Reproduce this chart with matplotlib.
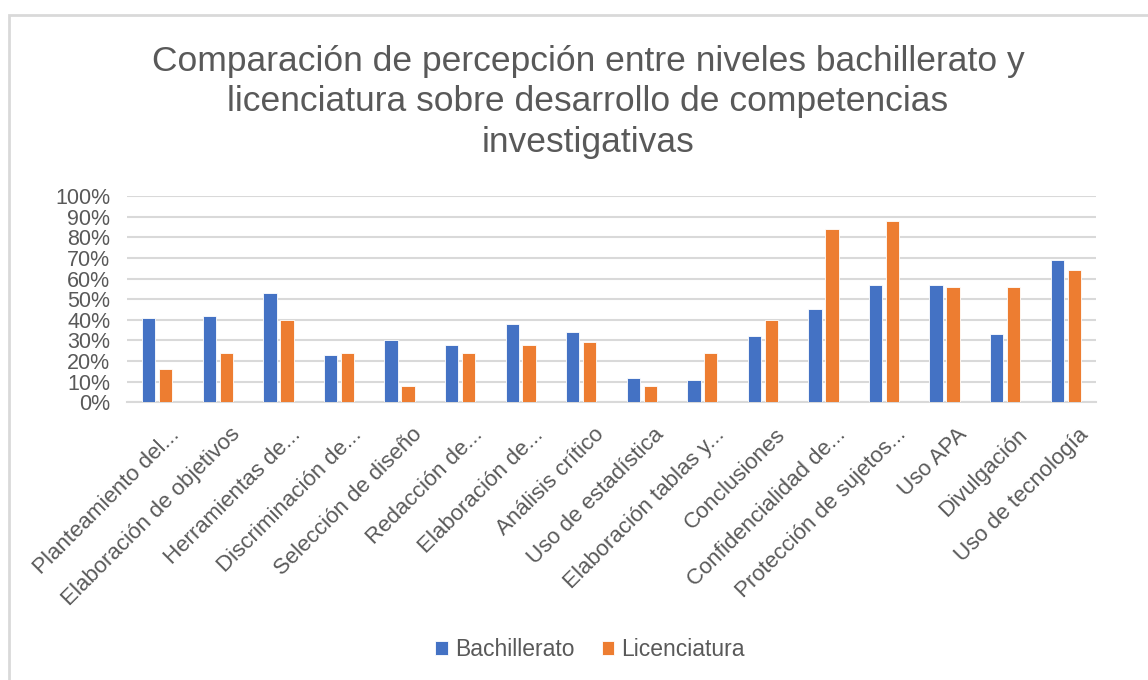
import numpy as np
import matplotlib.pyplot as plt
from matplotlib.patches import Rectangle
from matplotlib.ticker import PercentFormatter
import matplotlib.transforms as mtransforms

plt.rcParams['font.family'] = ['Liberation Sans', 'DejaVu Sans']

categories = ["Planteamiento del...", "Elaboración de objetivos", "Herramientas de...",
              "Discriminación de...", "Selección de diseño", "Redacción de...",
              "Elaboración de...", "Análisis crítico", "Uso de estadística",
              "Elaboración tablas y...", "Conclusiones", "Confidencialidad de...",
              "Protección de sujetos...", "Uso APA", "Divulgación", "Uso de tecnología"]
bachillerato = [0.41, 0.42, 0.53, 0.23, 0.30, 0.28, 0.38, 0.34,
                0.12, 0.11, 0.32, 0.45, 0.57, 0.57, 0.33, 0.69]
licenciatura = [0.16, 0.24, 0.40, 0.24, 0.08, 0.24, 0.28, 0.29,
                0.08, 0.24, 0.40, 0.84, 0.88, 0.56, 0.56, 0.64]

text_color = "#595959"
grid_color = "#d9d9d9"

fig = plt.figure(figsize=(11.48, 6.8), dpi=100)
ax = fig.add_axes([127 / 1148, 1 - 402.3 / 680, (1096 - 127) / 1148, (402.3 - 196) / 680])

x = np.arange(len(categories))
w = 0.22
ax.bar(x - 0.14, bachillerato, w, color="#4472C4", edgecolor="white", linewidth=0.6,
       label="Bachillerato", zorder=3)
ax.bar(x + 0.14, licenciatura, w, color="#ED7D31", edgecolor="white", linewidth=0.6,
       label="Licenciatura", zorder=3)

ax.set_xlim(-0.5, len(categories) - 0.5)
ax.set_ylim(0, 1)
ax.set_yticks(np.arange(0, 1.01, 0.1))
ax.yaxis.set_major_formatter(PercentFormatter(1.0, decimals=0))
ax.grid(axis="y", color=grid_color, linewidth=1.5, zorder=0)
for s in ["top", "right", "left"]:
    ax.spines[s].set_visible(False)
ax.spines["bottom"].set_color(grid_color)
ax.spines["bottom"].set_linewidth(1.5)
ax.tick_params(axis="both", length=0, colors=text_color, labelsize=15.5)
ax.tick_params(axis="y", pad=12)

ax.set_xticks(x)
ax.set_xticklabels(categories, rotation=45, ha="right", rotation_mode="anchor",
                   fontsize=16, color=text_color)
offset = mtransforms.ScaledTranslation(0.12, -0.17, fig.dpi_scale_trans)
for lab in ax.get_xticklabels():
    lab.set_transform(lab.get_transform() + offset)

fig.text(588 / 1148, 1 - 102 / 680,
         "Comparación de percepción entre niveles bachillerato y\n"
         "licenciatura sobre desarrollo de competencias\ninvestigativas",
         ha="center", va="center", fontsize=25.5, color=text_color, linespacing=1.27)

ax.legend(loc="center", bbox_to_anchor=(590 / 1148, 1 - 650 / 680),
          bbox_transform=fig.transFigure, ncol=2, frameon=False, fontsize=16.5,
          handlelength=0.55, handleheight=0.55, handletextpad=0.3, columnspacing=1.2,
          labelcolor=text_color)

# chart border (top and left visible in the screenshot)
fig.patches.append(Rectangle((9 / 1148, -0.1), 1.2, 1.1 - 15 / 680,
                             transform=fig.transFigure, fill=False,
                             edgecolor=grid_color, linewidth=2))

fig.savefig("out.png", dpi=100)
